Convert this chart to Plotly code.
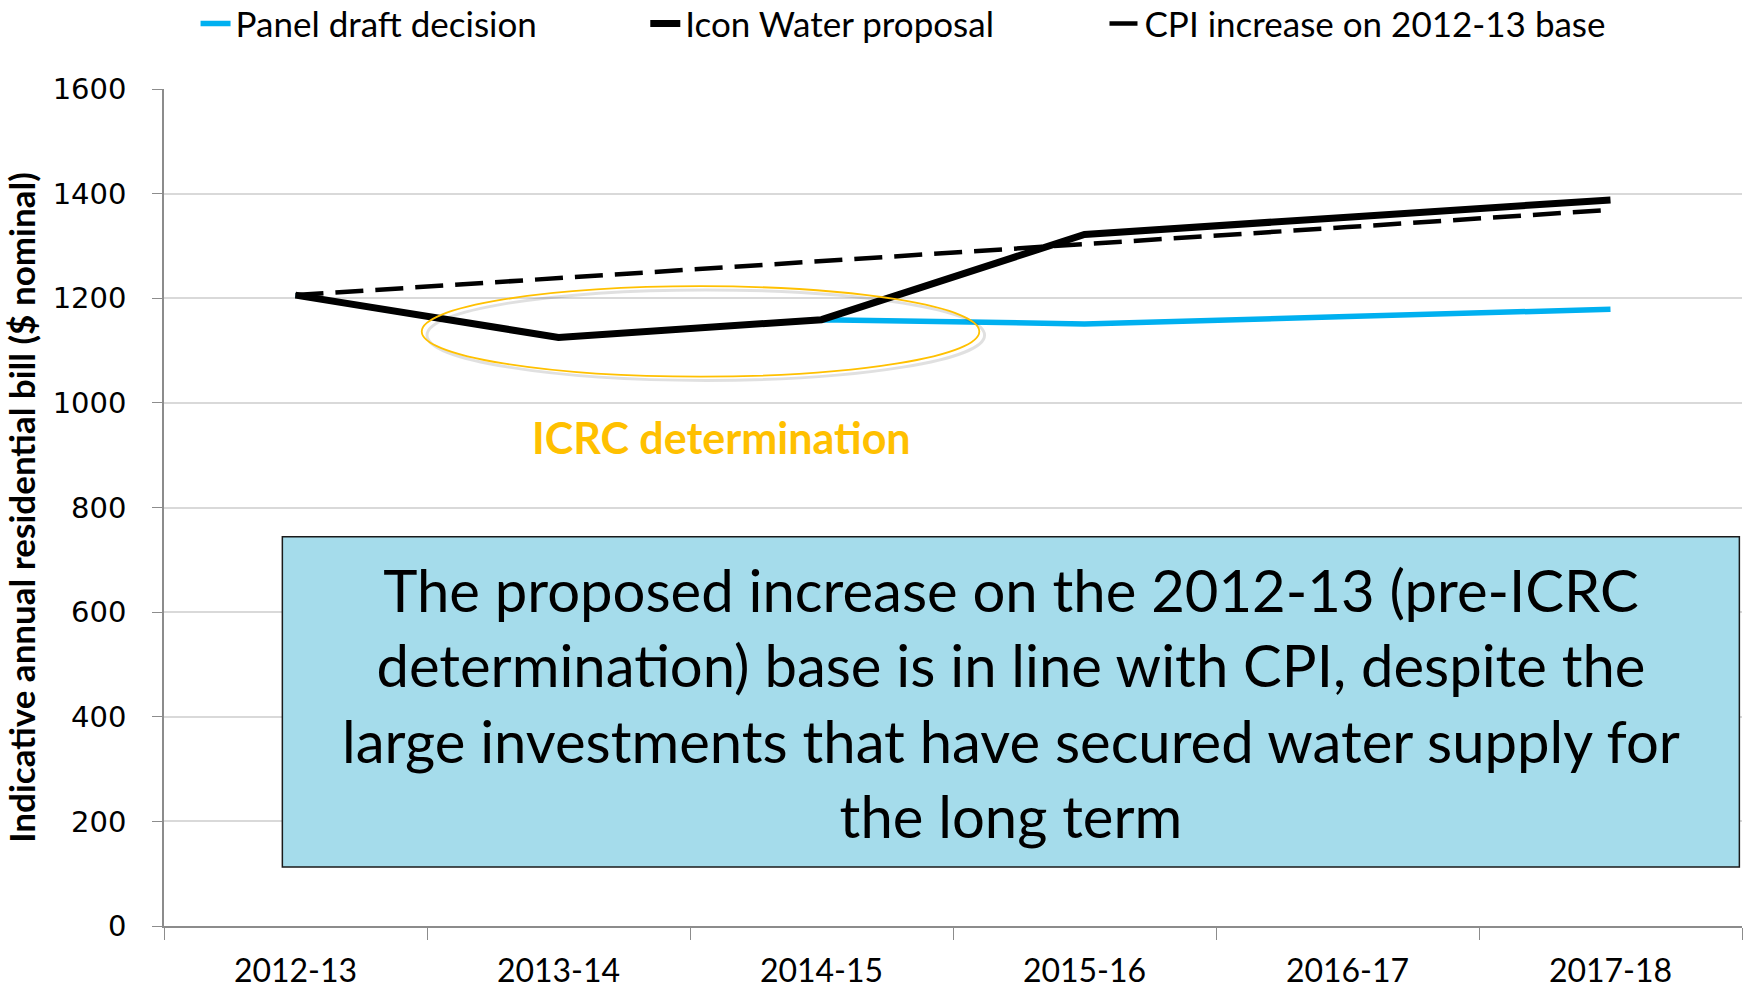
import plotly.graph_objects as go

# financial years on the x axis
years = ["2012-13", "2013-14", "2014-15", "2015-16", "2016-17", "2017-18"]

# indicative annual residential bill, $ nominal
panel_draft = [1206, 1125, 1159, 1151, 1165, 1179]
icon_water = [1206, 1125, 1159, 1322, 1355, 1388]
cpi_base = [1206, 1238, 1270, 1303, 1336, 1369]

box_text = ("The proposed increase on the 2012-13 (pre-ICRC<br>"
            "determination) base is in line with CPI, despite the<br>"
            "large investments that have secured water supply for<br>"
            "the long term")

FONT = "Lato, 'Open Sans', sans-serif"

fig = go.Figure()
fig.add_trace(go.Scatter(x=years, y=panel_draft, mode="lines", name="Panel draft decision",
                         line=dict(color="#00B0F0", width=5.5), legend="legend"))
fig.add_trace(go.Scatter(x=years, y=icon_water, mode="lines", name="Icon Water proposal",
                         line=dict(color="black", width=7), legend="legend2"))
fig.add_trace(go.Scatter(x=years, y=cpi_base, mode="lines", name="CPI increase on 2012-13 base",
                         line=dict(color="black", width=4.5, dash="28px,12px"), legend="legend3"))

# ellipse around the ICRC determination years (with a soft shadow)
fig.add_shape(type="circle", xref="x", yref="y", x0=0.5, x1=2.62, y0=1043, y1=1216,
              line=dict(color="rgba(0,0,0,0.12)", width=3))
fig.add_shape(type="circle", xref="x", yref="y", x0=0.48, x1=2.60, y0=1050, y1=1223,
              line=dict(color="#FFC000", width=1.8))
fig.add_annotation(x=1.62, y=933, xref="x", yref="y", text="<b>ICRC determination</b>",
                   showarrow=False, font=dict(family=FONT, size=43, color="#FFC000"))

# call-out box
fig.add_shape(type="rect", xref="x", yref="y", x0=-0.05, x1=5.49, y0=113, y1=744,
              fillcolor="#A5DCEB", line=dict(color="#1A1A1A", width=1.5), layer="above")
fig.add_annotation(x=2.72, y=428, xref="x", yref="y", text=box_text, showarrow=False,
                   align="center", font=dict(family=FONT, size=58, color="black"))


def legend_at(x):
    return dict(orientation="h", x=x, xanchor="left", yref="container", y=0.976,
                yanchor="middle", font=dict(family=FONT, size=35), bgcolor="rgba(0,0,0,0)")


fig.update_layout(
    width=1753, height=989,
    margin=dict(l=164, r=11, t=89, b=63, autoexpand=False),
    plot_bgcolor="white", paper_bgcolor="white",
    font=dict(family=FONT, color="black"),
    showlegend=True,
    legend=legend_at(0.020),
    legend2=legend_at(0.305),
    legend3=legend_at(0.596),
    xaxis=dict(type="category", range=[-0.5, 5.5], showgrid=False, showline=True,
               linecolor="#8C8C8C", linewidth=1.5, ticks="outside", tickson="boundaries",
               ticklen=12, tickcolor="#8C8C8C", ticklabelstandoff=16, automargin=False,
               tickfont=dict(family=FONT, size=32)),
    yaxis=dict(range=[0, 1600], dtick=200, showgrid=True, gridcolor="#D9D9D9", gridwidth=1.5,
               showline=True, linecolor="#8C8C8C", linewidth=1.5, ticks="outside", ticklen=10,
               tickcolor="#8C8C8C", zeroline=False, ticklabelstandoff=20, automargin=False,
               tickfont=dict(family="DejaVu Sans", size=29),
               title=dict(text="<b>Indicative annual residential bill ($ nominal)</b>",
                          font=dict(family=FONT, size=35), standoff=9)),
)

# drop the browser's default 8px body margin so the figure fills the window
fig.write_html("out.html", config={"displayModeBar": False},
               post_script="document.body.style.margin = '0';")
